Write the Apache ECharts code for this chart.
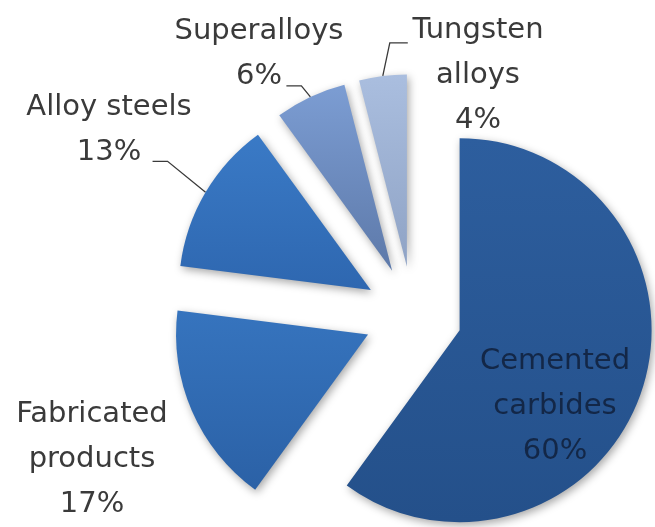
<!DOCTYPE html>
<html><head><meta charset="utf-8">
<script src="https://cdn.jsdelivr.net/npm/echarts@6/dist/echarts.min.js"></script>
<style>html,body{margin:0;padding:0;background:#fff}#c{width:655px;height:527px}</style>
</head><body><div id="c"></div>
<script>
// ---- data ----
const categories = ['Cemented\ncarbides', 'Fabricated\nproducts', 'Alloy steels', 'Superalloys', 'Tungsten\nalloys'];
const values = [60, 17, 13, 6, 4];
const colorsTop = ['#2D5E9E', '#3674BE', '#3A7AC6', '#7C9DD3', '#AABEDF'];
const colorsBottom = ['#24508A', '#2B61A6', '#2E67B0', '#5D79A9', '#8FA3C5'];

// ---- layout ----
const CX = 413, CY = 315, R = 192, EXPLODE = 49;
const labelPos = [[555, 406], [92, 459], [109, 130], [259, 54], [478, 75]];
const lineOffsets = [null, null, [[-38, -31], [-53, -31]], [[-9, -11], [-24, -11]], [[7, -33], [25, -33]]];
const FONT = 'DejaVu Sans';

const total = values.reduce((a, b) => a + b, 0);
const chart = echarts.init(document.getElementById('c'));
let cum = 0;
const series = values.map((v, i) => {
  const mid = (cum + v / 2) / total * Math.PI * 2;
  cum += v;
  const center = [CX + EXPLODE * Math.sin(mid), CY - EXPLODE * Math.cos(mid)];
  const inside = i === 0;
  const hasLine = !!lineOffsets[i];
  return {
    type: 'pie',
    center: center,
    radius: R,
    startAngle: 90,
    clockwise: true,
    avoidLabelOverlap: false,
    silent: true,
    animation: false,
    emphasis: { disabled: true },
    data: values.map((val, j) => {
      const item = { name: categories[j], value: val };
      if (j === i) {
        item.itemStyle = {
          color: { type: 'linear', x: 0, y: 0, x2: 0, y2: 1,
            colorStops: [{ offset: 0, color: colorsTop[j] }, { offset: 1, color: colorsBottom[j] }] },
          shadowBlur: 9, shadowColor: 'rgba(0,0,0,0.35)', shadowOffsetX: 2, shadowOffsetY: 3
        };
        item.label = {
          show: true,
          position: inside ? 'inside' : 'outside',
          formatter: p => p.name + '\n' + p.value + '%',
          fontFamily: FONT, fontSize: 29, lineHeight: 45,
          color: inside ? '#132747' : '#3a3a3a',
          align: 'center'
        };
        item.labelLine = { show: hasLine, length: 20, length2: 15,
          lineStyle: { color: '#3a3a3a', width: 1.3 } };
      } else {
        item.itemStyle = { color: 'rgba(0,0,0,0)' };
        item.label = { show: false };
        item.labelLine = { show: false };
      }
      return item;
    }),
    labelLayout: function (params) {
      if (params.dataIndex !== i) return {};
      const out = { x: labelPos[i][0], y: labelPos[i][1], align: 'center', verticalAlign: 'middle' };
      const off = lineOffsets[i];
      if (off && params.labelLinePoints) {
        const p1 = params.labelLinePoints[0];
        out.labelLinePoints = [[p1[0], p1[1]], [p1[0] + off[0][0], p1[1] + off[0][1]], [p1[0] + off[1][0], p1[1] + off[1][1]]];
      }
      return out;
    }
  };
});
chart.setOption({ backgroundColor: '#ffffff', animation: false, series: series });
</script></body></html>
